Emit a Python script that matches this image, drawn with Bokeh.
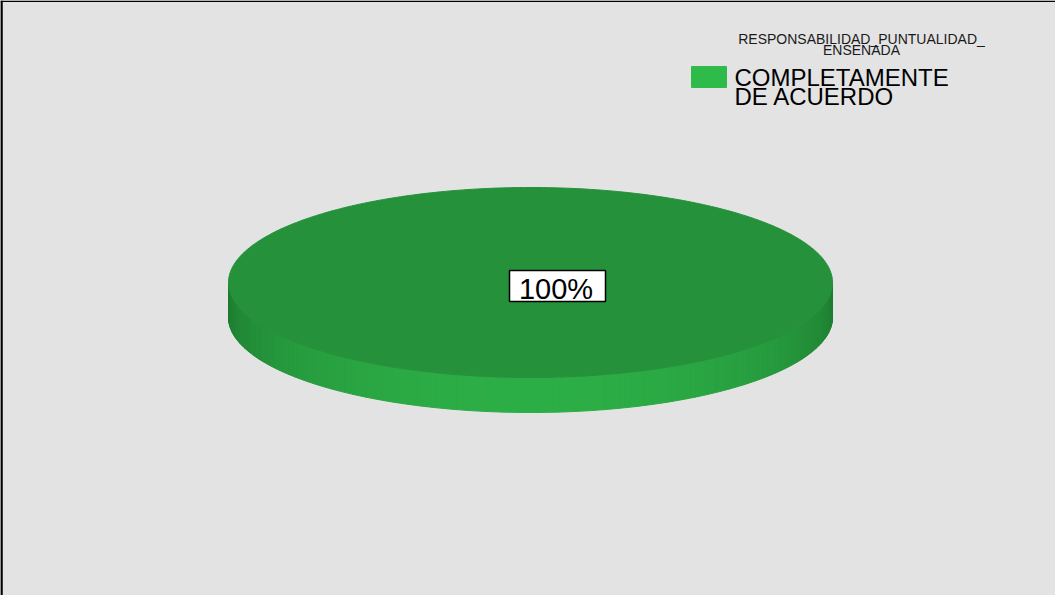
import numpy as np
from bokeh.plotting import figure
from bokeh.models import Range1d
from bokeh.embed import file_html
from bokeh.resources import INLINE
from bokeh.core.properties import value

# ---- data ----
title_lines = ["RESPONSABILIDAD_PUNTUALIDAD_", "ENSENADA"]
categories = ["COMPLETAMENTE DE ACUERDO"]
legend_lines = [["COMPLETAMENTE", "DE ACUERDO"]]
values = [100]
top_colors = ["#25923b"]
side_light = ["#2cae46"]
side_dark = ["#1d7a30"]
legend_colors = ["#2fbb4a"]

W, H = 1055, 595
FONT = "Liberation Sans"

p = figure(width=W, height=H, x_range=Range1d(0, W), y_range=Range1d(H, 0),
           output_backend="svg", toolbar_location=None, min_border=0,
           x_axis_location=None, y_axis_location=None,
           background_fill_color="#e3e3e3", border_fill_color="#e3e3e3",
           outline_line_color=None)
p.grid.visible = False

# pie geometry (layout)
cx, cy, a, b, depth = 530.0, 282.0, 302.0, 95.0, 35.0

def hexrgb(h):
    h = h.lstrip("#")
    return np.array([int(h[i:i + 2], 16) for i in (0, 2, 4)], dtype=float)

def rgbhex(c):
    c = np.clip(np.round(c), 0, 255).astype(int)
    return "#%02x%02x%02x" % tuple(c)

total = float(sum(values))
start = 0.0
side_xs, side_ys, side_cols = [], [], []
top_xs, top_ys = [], []
for v, tc, lc, dc in zip(values, top_colors, side_light, side_dark):
    span = 2 * np.pi * v / total
    th = np.linspace(start, start + span, 400)
    xs = list(cx + a * np.cos(th))
    ys = list(cy + b * np.sin(th))
    if v < total:
        xs = [cx] + xs
        ys = [cy] + ys
    top_xs.append(xs)
    top_ys.append(ys)
    # visible front side: angles in (0, pi)
    lo, hi = max(start, 0.0), min(start + span, np.pi)
    if hi > lo:
        edges = np.linspace(lo, hi, 181)
        L, D = hexrgb(lc), hexrgb(dc)
        for t1, t2 in zip(edges[:-1], edges[1:]):
            x1, x2 = cx + a * np.cos(t1), cx + a * np.cos(t2)
            y1, y2 = cy + b * np.sin(t1), cy + b * np.sin(t2)
            side_xs.append([x1, x2, x2, x1])
            side_ys.append([y1, y2, y2 + depth, y1 + depth])
            f = np.sin(0.5 * (t1 + t2))
            side_cols.append(rgbhex(D + (L - D) * f))
    start += span

p.patches(side_xs, side_ys, fill_color=side_cols, line_color=side_cols, line_width=1)
p.patches(top_xs, top_ys, fill_color=top_colors, line_color=top_colors, line_width=1)

# data label
lbl = ["%d%%" % round(100 * v / total) for v in values]
p.rect(x=[cx + 27], y=[cy + 3.5], width=[96], height=[31],
       fill_color="white", line_color="black", line_width=1.5)
p.text(x=[cx + 25.5], y=[cy + 6], text=lbl, text_font=value(FONT),
       text_font_size="29px", text_align="center", text_baseline="middle",
       text_color="black")

# legend title
p.text(x=[861, 861], y=[38, 49], text=title_lines, text_font=value(FONT),
       text_font_size="14px", text_align="center", text_baseline="alphabetic",
       text_color="#1a1a1a")

# legend entries
for i, (lines, col) in enumerate(zip(legend_lines, legend_colors)):
    p.rect(x=[708.5], y=[76.5 + i * 40], width=[35], height=[21],
           fill_color=col, line_color=col)
    p.text(x=[734] * len(lines), y=[77 + i * 40 + 19 * k for k in range(len(lines))],
           text=lines, text_font=value(FONT), text_font_size="24px",
           text_align="left", text_baseline="alphabetic", text_color="black")

# chart border (left and top)
p.segment(x0=[1, 0], y0=[0, 0.75], x1=[1, W], y1=[H, 0.75],
          line_color="black", line_width=[2.5, 1.5])

open("out.html", "w").write(file_html(p, INLINE))
